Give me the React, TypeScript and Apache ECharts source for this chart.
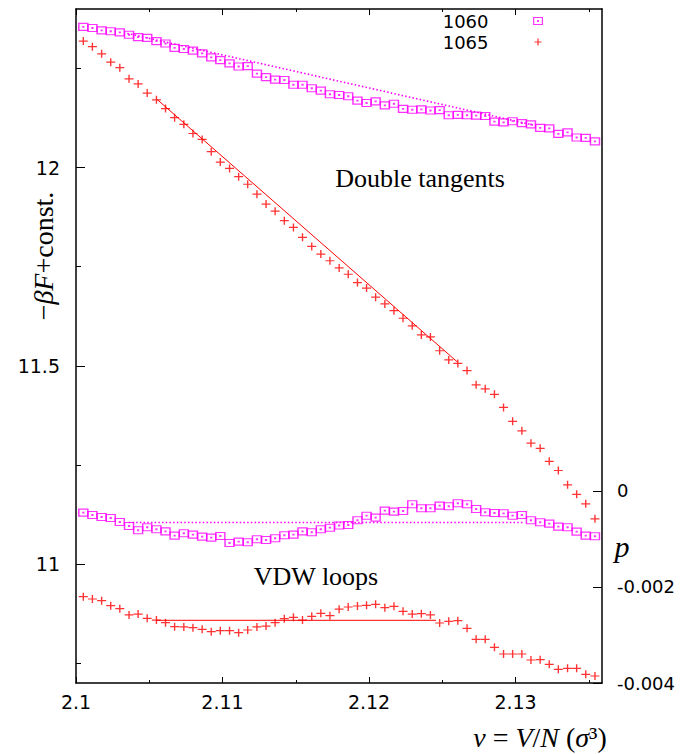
import React, { useEffect, useRef } from "react";
import * as echarts from "echarts";

// Specific volume v = V/N (sigma^3) of the simulation bins
const volumes = [
  2.1005, 2.10112, 2.10175, 2.10237, 2.10299, 2.10362, 2.10424, 2.10486, 2.10549, 2.10611,
  2.10673, 2.10736, 2.10798, 2.10861, 2.10923, 2.10985, 2.11048, 2.1111, 2.11172, 2.11235,
  2.11297, 2.11359, 2.11422, 2.11484, 2.11546, 2.11609, 2.11671, 2.11733, 2.11796, 2.11858,
  2.11921, 2.11983, 2.12045, 2.12108, 2.1217, 2.12232, 2.12295, 2.12357, 2.12419, 2.12482,
  2.12544, 2.12606, 2.12669, 2.12731, 2.12793, 2.12856, 2.12918, 2.1298, 2.13043, 2.13105,
  2.13168, 2.1323, 2.13292, 2.13355, 2.13417, 2.13479, 2.13542,
];

// -beta F + const. (left axis)
const negBetaF1060 = [
  12.355, 12.352, 12.346, 12.344, 12.341, 12.335, 12.329, 12.327, 12.319, 12.313,
  12.302, 12.299, 12.295, 12.288, 12.278, 12.271, 12.263, 12.255, 12.256, 12.237,
  12.228, 12.222, 12.221, 12.209, 12.209, 12.2, 12.194, 12.185, 12.183, 12.18,
  12.169, 12.163, 12.167, 12.157, 12.161, 12.148, 12.146, 12.147, 12.144, 12.145,
  12.132, 12.133, 12.132, 12.131, 12.13, 12.116, 12.114, 12.117, 12.112, 12.109,
  12.1, 12.099, 12.085, 12.089, 12.076, 12.075, 12.066,
];
const negBetaF1065 = [
  12.319, 12.305, 12.287, 12.266, 12.252, 12.224, 12.211, 12.188, 12.171, 12.149,
  12.126, 12.109, 12.086, 12.071, 12.04, 12.014, 11.998, 11.977, 11.958, 11.933,
  11.908, 11.89, 11.866, 11.849, 11.824, 11.801, 11.782, 11.765, 11.747, 11.731,
  11.71, 11.696, 11.673, 11.656, 11.639, 11.62, 11.601, 11.578, 11.573, 11.538,
  11.515, 11.506, 11.488, 11.452, 11.442, 11.428, 11.395, 11.36, 11.336, 11.305,
  11.292, 11.259, 11.236, 11.2, 11.176, 11.152, 11.114,
];

// pressure p (right axis)
const pressure1060 = [
  -0.000452, -0.0005, -0.000542, -0.000563, -0.000646, -0.000729, -0.000819, -0.000756, -0.000798, -0.00084,
  -0.000931, -0.000881, -0.00091, -0.000952, -0.000973, -0.000938, -0.001083, -0.001056, -0.001069, -0.001006,
  -0.001021, -0.000985, -0.000923, -0.00091, -0.00084, -0.00086, -0.000798, -0.000765, -0.000719, -0.000708,
  -0.00061, -0.000515, -0.000556, -0.00041, -0.000431, -0.000417, -0.000277, -0.00036, -0.00036, -0.000306,
  -0.000319, -0.000256, -0.000277, -0.000375, -0.000444, -0.000458, -0.000465, -0.000515, -0.0005, -0.00061,
  -0.000652, -0.000681, -0.000744, -0.000756, -0.000848, -0.000931, -0.000944,
];
const pressure1065 = [
  -0.002202, -0.00225, -0.002285, -0.00239, -0.002452, -0.002583, -0.002563, -0.002652, -0.002688, -0.002744,
  -0.002827, -0.002833, -0.002848, -0.002881, -0.002931, -0.00291, -0.00291, -0.002952, -0.002896, -0.002833,
  -0.002813, -0.002744, -0.00266, -0.002631, -0.002688, -0.00261, -0.002548, -0.002598, -0.002463, -0.002417,
  -0.002396, -0.002381, -0.00236, -0.002431, -0.002402, -0.002506, -0.002563, -0.002556, -0.002583, -0.00275,
  -0.002715, -0.002702, -0.00286, -0.00309, -0.00309, -0.003256, -0.003396, -0.003396, -0.003396, -0.003521,
  -0.003515, -0.00361, -0.003715, -0.003694, -0.003694, -0.003819, -0.003854,
];

// Double tangents and Maxwell constructions
const tangent1060V = [2.1035, 2.1314];
const tangent1060F = [12.3384, 12.1057];
const tangent1065V = [2.10553, 2.12605];
const tangent1065F = [12.172, 11.509];
const maxwell1060V = [2.1036, 2.1305];
const maxwell1060P = [-0.000656, -0.000656];
const maxwell1065V = [2.10546, 2.12457];
const maxwell1065P = [-0.002694, -0.002694];

// Axis ticks
const xMajorTicks = [2.1, 2.11, 2.12, 2.13];
const xMinorTicks = [2.105, 2.115, 2.125, 2.135];
const yMajorTicks = [11, 11.5, 12];
const yMinorTicks = [10.75, 11.25, 11.75, 12.25];
const pTicks = [-0.004, -0.002, 0];

const MAGENTA = "#ff00ff";
const RED = "#ff0000";
const SANS = "DejaVu Sans";
const SERIF = "Liberation Serif";

const squareSymbol = "path://M0,0H10V8H0Z M4.6,3.6H5.4V4.4H4.6Z";
const crossSymbol = "path://M0,5H10M5,0V10";

const pair = (xs: number[], ys: number[]) => xs.map((x, i) => [x, ys[i]]);
const fmt = (v: number) => String(parseFloat(Number(v).toFixed(5)));

function xAxisDef(position: "top" | "bottom", ticks: number[], len: number, line: boolean, labels: boolean) {
  return {
    type: "value",
    position,
    min: 2.1,
    max: 2.1359,
    splitLine: { show: false },
    axisLine: { show: line, onZero: false, lineStyle: { color: "#000", width: 1.5 } },
    axisTick: { show: true, inside: true, length: len, customValues: ticks, lineStyle: { color: "#000", width: 1 } },
    axisLabel: {
      show: labels,
      customValues: ticks,
      formatter: fmt,
      margin: 9,
      fontFamily: SANS,
      fontSize: 19,
      color: "#000",
    },
  };
}

export default function App() {
  const ref = useRef<HTMLDivElement>(null);

  useEffect(() => {
    if (!ref.current) return;
    const chart = echarts.init(ref.current, null, { renderer: "svg" });

    const scatterBase = {
      type: "scatter",
      xAxisIndex: 0,
      symbolSize: [9, 7],
      silent: true,
      emphasis: { disabled: true },
    };

    const option = {
      animation: false,
      backgroundColor: "#fff",
      grid: { left: 76, right: 86, top: 9, bottom: 71, containLabel: false, outerBoundsMode: "none" },
      legend: {
        orient: "vertical",
        right: 145,
        top: 12,
        padding: 0,
        align: "right",
        itemWidth: 9,
        itemHeight: 7,
        itemGap: 3,
        selectedMode: false,
        textStyle: { fontFamily: SANS, fontSize: 18, color: "#000", lineHeight: 18, padding: [0, 40, 0, 0] },
        data: [
          { name: "1060", icon: squareSymbol, itemStyle: { color: "transparent", borderColor: MAGENTA, borderWidth: 1.2 } },
          { name: "1065", icon: crossSymbol, itemStyle: { color: "transparent", borderColor: RED, borderWidth: 1.2 } },
        ],
      },
      xAxis: [
        xAxisDef("bottom", xMajorTicks, 6, true, true),
        xAxisDef("bottom", xMinorTicks, 3, false, false),
        xAxisDef("top", xMajorTicks, 6, true, false),
        xAxisDef("top", xMinorTicks, 3, false, false),
      ],
      yAxis: [
        {
          type: "value",
          position: "left",
          min: 10.7,
          max: 12.4,
          splitLine: { show: false },
          axisLine: { show: true, onZero: false, lineStyle: { color: "#000", width: 1.5 } },
          axisTick: { show: true, inside: true, length: 9, customValues: yMajorTicks, lineStyle: { color: "#000", width: 1 } },
          axisLabel: { show: true, customValues: yMajorTicks, formatter: fmt, margin: 16, fontFamily: SANS, fontSize: 19, color: "#000" },
        },
        {
          type: "value",
          position: "left",
          min: 10.7,
          max: 12.4,
          splitLine: { show: false },
          axisLine: { show: false, onZero: false },
          axisTick: { show: true, inside: true, length: 5, customValues: yMinorTicks, lineStyle: { color: "#000", width: 1 } },
          axisLabel: { show: false },
        },
        {
          type: "value",
          position: "right",
          min: -0.004,
          max: 0.01004,
          splitLine: { show: false },
          axisLine: { show: true, onZero: false, lineStyle: { color: "#000", width: 1.5 } },
          axisTick: { show: true, inside: true, length: 9, customValues: pTicks, lineStyle: { color: "#000", width: 1 } },
          axisLabel: { show: true, customValues: pTicks, formatter: fmt, margin: 15, fontFamily: SANS, fontSize: 18, color: "#000" },
        },
      ],
      series: [
        {
          ...scatterBase,
          name: "1060",
          yAxisIndex: 0,
          symbol: squareSymbol,
          itemStyle: { color: "transparent", borderColor: MAGENTA, borderWidth: 1.3 },
          data: pair(volumes, negBetaF1060),
        },
        {
          ...scatterBase,
          name: "1065",
          yAxisIndex: 0,
          symbol: crossSymbol,
          symbolSize: [9, 8],
          itemStyle: { color: "transparent", borderColor: RED, borderWidth: 1.3 },
          data: pair(volumes, negBetaF1065),
        },
        {
          ...scatterBase,
          name: "1060",
          yAxisIndex: 2,
          symbol: squareSymbol,
          itemStyle: { color: "transparent", borderColor: MAGENTA, borderWidth: 1.3 },
          data: pair(volumes, pressure1060),
        },
        {
          ...scatterBase,
          name: "1065",
          yAxisIndex: 2,
          symbol: crossSymbol,
          symbolSize: [9, 8],
          itemStyle: { color: "transparent", borderColor: RED, borderWidth: 1.3 },
          data: pair(volumes, pressure1065),
        },
        {
          type: "line",
          name: "tangent 1060",
          xAxisIndex: 0,
          yAxisIndex: 0,
          showSymbol: false,
          silent: true,
          lineStyle: { color: MAGENTA, width: 1.6, type: [1.5, 2.2] },
          data: pair(tangent1060V, tangent1060F),
        },
        {
          type: "line",
          name: "tangent 1065",
          xAxisIndex: 0,
          yAxisIndex: 0,
          showSymbol: false,
          silent: true,
          lineStyle: { color: RED, width: 1 },
          data: pair(tangent1065V, tangent1065F),
        },
        {
          type: "line",
          name: "maxwell 1060",
          xAxisIndex: 0,
          yAxisIndex: 2,
          showSymbol: false,
          silent: true,
          lineStyle: { color: MAGENTA, width: 1.6, type: [1.5, 2.2] },
          data: pair(maxwell1060V, maxwell1060P),
        },
        {
          type: "line",
          name: "maxwell 1065",
          xAxisIndex: 0,
          yAxisIndex: 2,
          showSymbol: false,
          silent: true,
          lineStyle: { color: RED, width: 1 },
          data: pair(maxwell1065V, maxwell1065P),
        },
      ],
      graphic: [
        {
          type: "text",
          x: 43,
          y: 256,
          rotation: Math.PI / 2,
          style: {
            text: "−{i|βF}+const.",
            fontFamily: SERIF,
            fontSize: 28,
            fill: "#000",
            align: "center",
            verticalAlign: "middle",
            rich: { i: { fontFamily: SERIF, fontSize: 28, fontStyle: "italic", fill: "#000" } },
          },
        },
        {
          type: "text",
          x: 420,
          y: 178,
          style: { text: "Double tangents", fontFamily: SERIF, fontSize: 26, fill: "#000", align: "center", verticalAlign: "middle" },
        },
        {
          type: "text",
          x: 316,
          y: 576,
          style: { text: "VDW loops", fontFamily: SERIF, fontSize: 26, fill: "#000", align: "center", verticalAlign: "middle" },
        },
        {
          type: "text",
          x: 622,
          y: 546,
          style: { text: "p", fontFamily: SERIF, fontSize: 30, fontStyle: "italic", fill: "#000", align: "center", verticalAlign: "middle" },
        },
        {
          type: "text",
          x: 540,
          y: 737,
          style: {
            text: "{i|v} = {i|V}/{i|N} ({i|σ}³)",
            fontFamily: SERIF,
            fontSize: 28,
            fill: "#000",
            align: "center",
            verticalAlign: "middle",
            rich: { i: { fontFamily: SERIF, fontSize: 28, fontStyle: "italic", fill: "#000" } },
          },
        },
      ],
    };

    chart.setOption(option as any);
    return () => chart.dispose();
  }, []);

  return (
    <div
      ref={ref}
      style={{ position: "absolute", left: 0, top: 0, width: 688, height: 754, background: "#fff" }}
    />
  );
}
